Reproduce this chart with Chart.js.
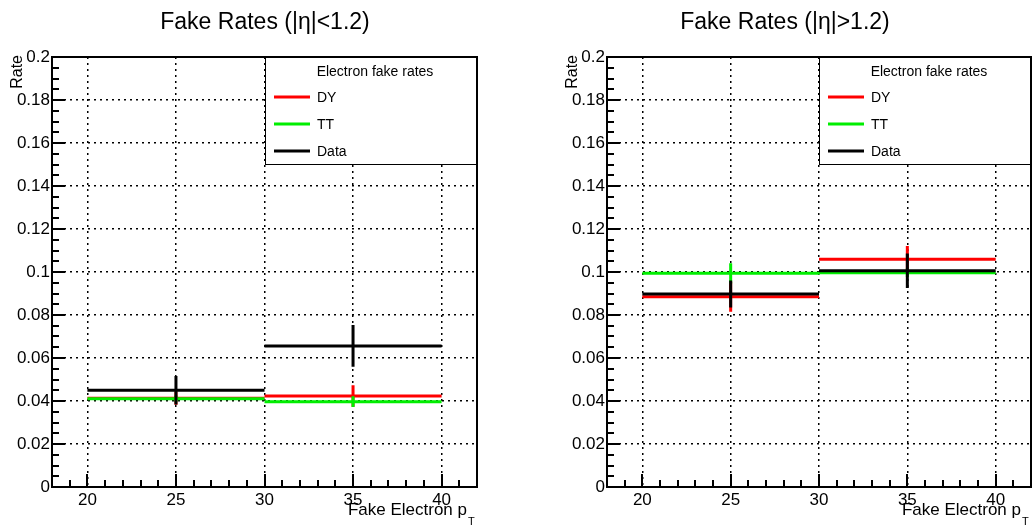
<!DOCTYPE html>
<html>
<head>
<meta charset="utf-8">
<script src="https://cdn.jsdelivr.net/npm/chart.js@4/dist/chart.umd.min.js"></script>
<style>
  html, body { margin: 0; padding: 0; background: #fff; }
  .panel { position: absolute; top: 0; width: 517px; height: 527px; }
</style>
</head>
<body>
<div class="panel" style="left:0"><canvas id="barrelChart" width="517" height="527"></canvas></div>
<div class="panel" style="left:517px"><canvas id="endcapChart" width="517" height="527"></canvas></div>
<script>
// Bins (Fake Electron pT)
const binEdges = [20, 30, 40];
const binCenters = [25, 35];
const xTicks = [20, 25, 30, 35, 40];
const xTickLabels = ['20', '25', '30', '35', '40'];
const yTicks = [0, 0.02, 0.04, 0.06, 0.08, 0.1, 0.12, 0.14, 0.16, 0.18, 0.2];
const yTickLabels = ['0', '0.02', '0.04', '0.06', '0.08', '0.1', '0.12', '0.14', '0.16', '0.18', '0.2'];

const seriesNames = ['DY', 'TT', 'Data'];
const seriesColors = ['#ff0000', '#00ee00', '#000000'];

// |eta| < 1.2
const barrelDY = [0.0413, 0.0423];
const barrelDYErr = [0.0030, 0.0050];
const barrelTT = [0.0411, 0.0397];
const barrelTTErr = [0.0015, 0.0025];
const barrelData = [0.0450, 0.0656];
const barrelDataErr = [0.0066, 0.0097];

// |eta| > 1.2
const endcapDY = [0.0885, 0.1059];
const endcapDYErr = [0.0070, 0.0062];
const endcapTT = [0.0994, 0.0997];
const endcapTTErr = [0.0047, 0.0020];
const endcapData = [0.0898, 0.1006];
const endcapDataErr = [0.0063, 0.0080];

const FONT = "'Liberation Sans', Arial, Helvetica, sans-serif";

// ROOT-like drawing: bins with error bars, inner ticks, frame, legend, titles
const rootStyle = {
  id: 'rootStyle',
  afterDatasetsDraw(chart) {
    const ctx = chart.ctx, xs = chart.scales.x, ys = chart.scales.y, a = chart.chartArea;
    ctx.save();
    ctx.beginPath();
    ctx.rect(a.left, a.top, a.right - a.left, a.bottom - a.top);
    ctx.clip();
    chart.data.datasets.forEach(ds => {
      ctx.strokeStyle = ds.borderColor;
      ctx.lineWidth = 3;
      ds.data.forEach((p, i) => {
        const x0 = xs.getPixelForValue(binEdges[i]);
        const x1 = xs.getPixelForValue(binEdges[i + 1]);
        const xc = xs.getPixelForValue(p.x);
        const y = ys.getPixelForValue(p.y);
        ctx.beginPath();
        ctx.moveTo(x0, y); ctx.lineTo(x1, y);
        ctx.moveTo(xc, ys.getPixelForValue(p.y + ds.errors[i]));
        ctx.lineTo(xc, ys.getPixelForValue(p.y - ds.errors[i]));
        ctx.stroke();
      });
    });
    ctx.restore();
  },
  afterDraw(chart, args, opts) {
    const ctx = chart.ctx, xs = chart.scales.x, ys = chart.scales.y, a = chart.chartArea;
    ctx.save();

    // legend box
    const lw = 212, lh = 107;
    const lx = a.right - lw, ly = a.top;
    ctx.fillStyle = '#fff';
    ctx.fillRect(lx, ly, lw, lh);
    ctx.strokeStyle = '#000';
    ctx.lineWidth = 1;
    ctx.strokeRect(lx + 0.5, ly + 0.5, lw - 1, lh);
    ctx.fillStyle = '#000';
    ctx.font = '14px ' + FONT;
    ctx.textAlign = 'center';
    ctx.textBaseline = 'middle';
    ctx.fillText('Electron fake rates', lx + 110, ly + 15);
    ctx.textAlign = 'left';
    chart.data.datasets.forEach((ds, i) => {
      const yy = ly + 40 + i * 27;
      ctx.strokeStyle = ds.borderColor;
      ctx.lineWidth = 3;
      ctx.beginPath();
      ctx.moveTo(lx + 9, yy); ctx.lineTo(lx + 45, yy);
      ctx.stroke();
      ctx.fillStyle = '#000';
      ctx.fillText(ds.label, lx + 52, yy + 1);
    });

    // frame
    ctx.strokeStyle = '#000';
    ctx.lineWidth = 2;
    ctx.strokeRect(a.left, a.top, a.right - a.left, a.bottom - a.top);

    // inner ticks
    ctx.lineWidth = 2;
    ctx.beginPath();
    for (let k = 0; k <= 40; k++) {
      const v = k * 0.005;
      const y = Math.round(ys.getPixelForValue(v));
      const len = (k % 4 === 0) ? 13 : 7;
      ctx.moveTo(a.left, y); ctx.lineTo(a.left + len, y);
    }
    for (let v = 18; v <= 42; v++) {
      const x = Math.round(xs.getPixelForValue(v));
      const len = (v % 5 === 0) ? 13 : 7;
      ctx.moveTo(x, a.bottom); ctx.lineTo(x, a.bottom - len);
    }
    ctx.stroke();

    // title
    ctx.fillStyle = '#000';
    ctx.font = '23px ' + FONT;
    ctx.textAlign = 'center';
    ctx.textBaseline = 'alphabetic';
    ctx.fillText(opts.title, opts.titleX, 29);

    // x axis title with subscript
    ctx.font = '17px ' + FONT;
    ctx.textAlign = 'right';
    ctx.fillText('Fake Electron p', a.right - 10, 515);
    ctx.font = '11px ' + FONT;
    ctx.textAlign = 'left';
    ctx.fillText('T', a.right - 9, 525);

    // y axis title
    ctx.translate(a.left - 34, 55);
    ctx.rotate(-Math.PI / 2);
    ctx.font = '16px ' + FONT;
    ctx.textAlign = 'right';
    ctx.textBaseline = 'middle';
    ctx.fillText('Rate', 0, 0);
    ctx.restore();
  }
};

function makeDatasets(dy, dyErr, tt, ttErr, data, dataErr) {
  const vals = [dy, tt, data], errs = [dyErr, ttErr, dataErr];
  return seriesNames.map((name, s) => ({
    label: name,
    data: binCenters.map((x, i) => ({ x: x, y: vals[s][i] })),
    errors: errs[s],
    borderColor: seriesColors[s],
    backgroundColor: seriesColors[s],
    pointRadius: 0,
    showLine: false
  }));
}

function makeChart(id, datasets, title, titleX, padding) {
  const ctx = document.getElementById(id).getContext('2d');
  return new Chart(ctx, {
    type: 'scatter',
    data: { datasets: datasets },
    plugins: [rootStyle],
    options: {
      responsive: false,
      animation: false,
      layout: { padding: padding },
      plugins: {
        legend: { display: false },
        title: { display: false },
        tooltip: { enabled: false },
        rootStyle: { title: title, titleX: titleX }
      },
      scales: {
        x: {
          type: 'linear',
          min: 18,
          max: 42,
          afterBuildTicks: s => { s.ticks = xTicks.map(v => ({ value: v })); },
          afterFit: s => { s.height = 40; },
          ticks: {
            color: '#000',
            padding: 3,
            maxRotation: 0,
            font: { family: FONT, size: 17 },
            callback: (v) => xTickLabels[xTicks.indexOf(v)]
          },
          grid: { color: '#000', lineWidth: 1.5, drawTicks: false },
          border: { display: false, dash: [2, 4] }
        },
        y: {
          type: 'linear',
          min: 0,
          max: 0.2,
          afterBuildTicks: s => { s.ticks = yTicks.map(v => ({ value: v })); },
          afterFit: s => { s.width = 52; },
          ticks: {
            color: '#000',
            padding: 2,
            font: { family: FONT, size: 17 },
            callback: (v) => yTickLabels[yTicks.indexOf(v)]
          },
          grid: { color: '#000', lineWidth: 1.5, drawTicks: false },
          border: { display: false, dash: [2, 4] }
        }
      }
    }
  });
}

makeChart('barrelChart',
  makeDatasets(barrelDY, barrelDYErr, barrelTT, barrelTTErr, barrelData, barrelDataErr),
  'Fake Rates (|\u03b7|<1.2)', 265, { left: 0, right: 40, top: 57, bottom: 0 });

makeChart('endcapChart',
  makeDatasets(endcapDY, endcapDYErr, endcapTT, endcapTTErr, endcapData, endcapDataErr),
  'Fake Rates (|\u03b7|>1.2)', 268, { left: 38, right: 3, top: 57, bottom: 0 });
</script>
</body>
</html>
